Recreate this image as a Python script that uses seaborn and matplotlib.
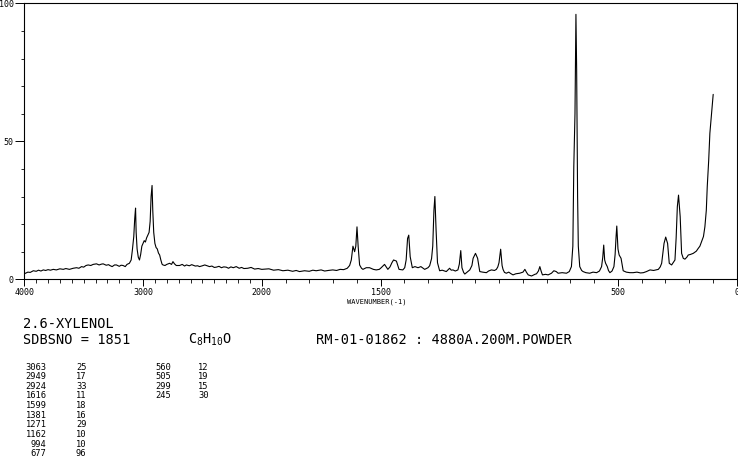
import numpy as np
import pandas as pd
import matplotlib
matplotlib.use("Agg")
import matplotlib.pyplot as plt
import seaborn as sns

# ---------------- data ----------------
wavenumber = [
    4000, 3990, 3970, 3950, 3924, 3900, 3880, 3860, 3840, 3820, 3800, 3780, 3756, 3730,
    3700, 3672, 3650, 3620, 3588, 3560, 3540, 3518, 3500, 3480, 3462, 3440, 3420, 3392,
    3370, 3350, 3336, 3310, 3290, 3280, 3260, 3240, 3224, 3200, 3185, 3168, 3150, 3135,
    3115, 3100, 3090, 3078, 3070, 3063, 3058, 3050, 3040, 3030, 3020, 3010, 3000, 2990,
    2980, 2970, 2960, 2949, 2940, 2932, 2924, 2918, 2910, 2900, 2890, 2880, 2870, 2860,
    2850, 2840, 2832, 2815, 2800, 2776, 2760, 2748, 2735, 2720, 2692, 2670, 2650, 2635,
    2610, 2590, 2560, 2540, 2524, 2500, 2480, 2467, 2440, 2420, 2400, 2383, 2360, 2340,
    2320, 2299, 2280, 2260, 2240, 2215, 2190, 2170, 2150, 2118, 2090, 2060, 2030, 2000,
    1970, 1950, 1930, 1911, 1890, 1870, 1855, 1841, 1820, 1800, 1785, 1771, 1750, 1735,
    1720, 1701, 1685, 1670, 1655, 1640, 1630, 1623, 1616, 1609, 1604, 1599, 1594, 1588,
    1580, 1574, 1560, 1546, 1530, 1518, 1505, 1497, 1490, 1483, 1476, 1469, 1460, 1452,
    1445, 1433, 1427, 1422, 1406, 1398, 1392, 1386, 1381, 1375, 1366, 1355, 1342, 1330,
    1314, 1300, 1293, 1285, 1280, 1275, 1271, 1266, 1260, 1251, 1240, 1230, 1223, 1215,
    1209, 1202, 1195, 1185, 1174, 1168, 1162, 1157, 1150, 1145, 1135, 1124, 1115, 1110,
    1100, 1091, 1085, 1082, 1070, 1054, 1045, 1033, 1020, 1012, 1006, 1001, 994, 988,
    984, 978, 970, 960, 950, 942, 930, 914, 900, 892, 885, 878, 864, 850,
    843, 835, 829, 823, 818, 805, 794, 780, 770, 760, 752, 735, 717, 705,
    696, 690, 686, 681, 677, 674, 670, 667, 661, 653, 647, 635, 619, 605,
    590, 578, 569, 564, 560, 556, 552, 545, 540, 534, 525, 517, 512, 508,
    505, 500, 495, 487, 482, 478, 465, 450, 436, 420, 405, 393, 380, 365,
    350, 340, 330, 322, 316, 306, 299, 291, 284, 274, 260, 255, 250, 245,
    238, 232, 225, 218, 210, 204, 195, 183, 170, 162, 155, 148, 140, 134,
    128, 124, 118, 113, 106, 102, 99,
]
intensity = [
    2.0, 2.2, 2.6, 2.5, 3.1, 2.9, 3.3, 3.0, 3.4, 3.2, 3.5, 3.3, 3.6, 3.4,
    3.8, 3.6, 3.9, 3.6, 4.0, 4.2, 4.0, 4.6, 4.4, 5.0, 5.2, 5.0, 5.4, 5.6,
    5.2, 5.5, 5.6, 5.1, 5.3, 5.0, 4.6, 5.2, 5.2, 4.7, 5.1, 5.0, 4.6, 5.4,
    5.8, 7.0, 10.5, 15.5, 22.0, 25.8, 17.0, 11.0, 8.0, 7.0, 9.0, 12.0, 13.0, 14.0,
    13.5, 15.0, 16.0, 17.0, 21.0, 30.0, 34.0, 25.0, 17.0, 13.0, 11.5, 11.0, 9.5, 8.8,
    7.0, 5.5, 5.2, 5.0, 5.4, 5.8, 5.4, 6.4, 5.6, 5.0, 5.0, 5.4, 4.8, 5.2,
    4.9, 5.3, 4.8, 4.9, 4.6, 4.9, 5.2, 5.0, 4.6, 4.8, 4.3, 4.4, 4.7, 4.2,
    4.5, 4.4, 4.0, 4.5, 4.2, 4.6, 4.0, 4.3, 3.9, 4.0, 4.3, 3.7, 3.9, 3.6,
    3.8, 3.3, 3.5, 3.1, 3.3, 2.9, 3.2, 2.8, 3.1, 2.9, 3.3, 3.1, 3.4, 3.0,
    3.2, 3.4, 3.2, 3.6, 3.5, 4.0, 5.0, 7.0, 12.0, 10.0, 12.0, 19.0, 11.8, 5.2,
    4.0, 3.6, 4.2, 4.2, 3.6, 3.4, 3.6, 4.2, 4.8, 5.4, 4.5, 3.6, 4.5, 6.0,
    7.0, 6.6, 5.0, 3.6, 3.4, 4.2, 7.0, 14.8, 16.0, 8.2, 4.2, 4.6, 4.2, 4.6,
    3.6, 4.2, 4.9, 7.5, 12.0, 25.0, 30.0, 18.0, 6.0, 3.1, 3.3, 3.0, 2.8, 3.5,
    4.0, 3.3, 3.4, 3.0, 3.4, 5.5, 10.4, 4.2, 2.5, 1.9, 2.6, 3.4, 5.0, 7.6,
    9.4, 7.6, 4.5, 2.8, 2.6, 2.4, 3.0, 3.4, 3.2, 3.6, 4.5, 6.0, 10.9, 5.0,
    3.6, 2.5, 2.2, 2.6, 2.0, 1.6, 2.0, 2.2, 2.6, 3.6, 2.5, 1.6, 1.2, 1.8,
    2.0, 3.0, 4.6, 2.8, 1.6, 1.8, 1.6, 2.2, 3.1, 2.8, 2.2, 2.4, 2.2, 2.8,
    4.6, 12.0, 40.8, 60.0, 96.0, 76.0, 30.0, 12.0, 4.6, 3.2, 2.8, 2.4, 2.2, 2.6,
    2.4, 3.0, 4.6, 8.0, 12.4, 7.0, 5.8, 4.6, 3.2, 2.4, 3.0, 4.6, 9.0, 15.4,
    19.3, 11.0, 8.8, 7.6, 5.0, 3.1, 2.6, 2.4, 2.4, 2.6, 2.3, 2.4, 2.8, 3.4,
    3.2, 3.4, 3.6, 4.5, 5.8, 13.0, 15.3, 13.0, 5.8, 5.2, 7.0, 15.0, 26.3, 30.5,
    22.7, 9.4, 7.6, 7.3, 8.0, 8.8, 9.0, 9.4, 10.2, 11.2, 12.0, 13.6, 15.5, 19.0,
    25.0, 33.6, 43.0, 52.9, 60.0, 64.0, 67.0,
]

peak_wn = [3063, 2949, 2924, 1616, 1599, 1381, 1271, 1162, 994, 677, 560, 505, 299, 245]
peak_int = [25, 17, 33, 11, 18, 16, 29, 10, 10, 96, 12, 19, 15, 30]

x_major = [4000, 3000, 2000, 1500, 500, 0]
y_major = [0, 50, 100]

compound = "2.6-XYLENOL"
sdbs_no = "SDBSNO = 1851"
formula = r"$\mathtt{C_8H_{10}O}$"
conditions = "RM-01-01862 : 4880A.200M.POWDER"
x_title = "WAVENUMBER(-1)"

# ---------------- figure ----------------
sns.set_theme(style="ticks")
plt.rcParams["font.family"] = ["DejaVu Sans Mono", "DejaVu Sans"]
plt.rcParams["mathtext.fontset"] = "dejavusans"

W, H = 738, 457
fig = plt.figure(figsize=(W / 100, H / 100), dpi=100)
fig.patch.set_facecolor("white")
ax_left, ax_right, ax_top, ax_bottom = 24.3, 736.7, 3.3, 279.3
ax = fig.add_axes([ax_left / W, 1 - ax_bottom / H, (ax_right - ax_left) / W,
                   (ax_bottom - ax_top) / H])
ax.set_facecolor("white")


def fwd(x):
    x = np.asarray(x, dtype=float)
    return np.where(x <= 2000, x, 2000 + (x - 2000) / 2.0)


def inv(u):
    u = np.asarray(u, dtype=float)
    return np.where(u <= 2000, u, 2000 + (u - 2000) * 2.0)


ax.set_xscale("function", functions=(fwd, inv))

df = pd.DataFrame({"wavenumber": wavenumber, "intensity": intensity})
sns.lineplot(data=df, x="wavenumber", y="intensity", color="black", lw=0.8,
             estimator=None, sort=False, ax=ax)

ax.set_xlim(4000, 0)
ax.set_ylim(0, 100)
ax.set_xlabel("")
ax.set_ylabel("")

ax.set_xticks(x_major)
ax.set_xticklabels([str(v) for v in x_major])
ax.set_xticks([v for v in range(0, 4001, 100) if v not in x_major], minor=True)
ax.set_yticks(y_major)
ax.set_yticklabels([str(v) for v in y_major])
ax.set_yticks([v for v in range(0, 101, 10) if v not in y_major], minor=True)

for s in ax.spines.values():
    s.set_visible(True)
    s.set_color("black")
    s.set_linewidth(0.8)

ax.tick_params(axis="x", which="major", length=5.0, width=0.7, pad=1.2,
               labelsize=6, colors="black")
ax.tick_params(axis="x", which="minor", length=2.9, width=0.7)
ax.tick_params(axis="y", which="major", length=6.5, width=0.7, pad=1.0,
               labelsize=6, colors="black")
ax.tick_params(axis="y", which="minor", length=2.0, width=0.7)


def ftext(x, y, s, **kw):
    fig.text(x / W, 1 - y / H, s, color="black", **kw)


ftext(377, 301.5, x_title, ha="center", va="center", fontsize=5)
ftext(23, 328.5, compound, ha="left", va="baseline", fontsize=9.8)
ftext(23, 343.5, sdbs_no, ha="left", va="baseline", fontsize=9.8)
ftext(188, 343.5, formula, ha="left", va="baseline", fontsize=9.8)
ftext(316, 344.5, conditions, ha="left", va="baseline", fontsize=9.8)

row0, dy = 369.5, 9.65
half = 10
for i, (w, v) in enumerate(zip(peak_wn, peak_int)):
    col = i // half
    r = i % half
    y = row0 + r * dy
    if col == 0:
        ftext(46.5, y, str(w), ha="right", va="baseline", fontsize=6.3)
        ftext(76, y, str(v), ha="left", va="baseline", fontsize=6.3)
    else:
        ftext(171.5, y, str(w), ha="right", va="baseline", fontsize=6.3)
        ftext(198, y, str(v), ha="left", va="baseline", fontsize=6.3)

fig.savefig("out.png", dpi=100, facecolor="white")
